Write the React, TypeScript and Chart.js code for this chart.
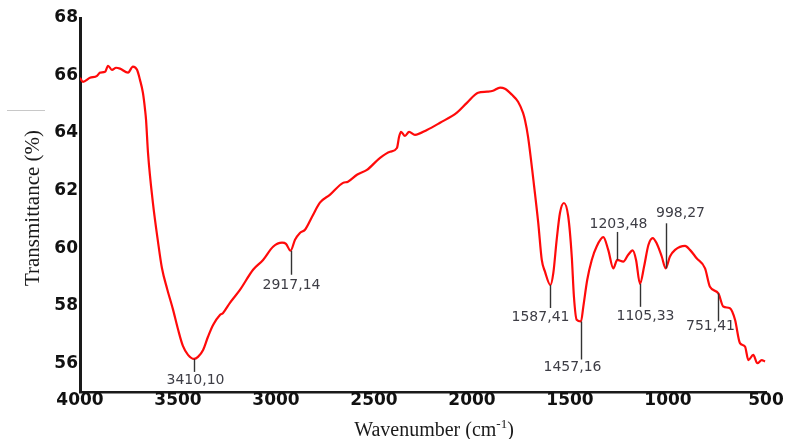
import React, { useEffect, useRef } from "react";
import { Chart, registerables } from "chart.js";

Chart.register(...registerables);

// ---- Data ----
const wavenumbers = [
  4000, 3985, 3949, 3913, 3898, 3872, 3857, 3837, 3816, 3796, 3755, 3730, 3709, 3694, 3679, 3668,
  3663, 3653, 3628, 3602, 3582, 3556, 3526, 3500, 3475, 3449, 3418, 3398, 3372, 3347, 3321, 3286,
  3270, 3235, 3184, 3117, 3066, 3015, 2969, 2949, 2926, 2903, 2878, 2852, 2816, 2776, 2724, 2658,
  2633, 2587, 2536, 2469, 2418, 2383, 2372, 2362, 2342, 2321, 2291, 2230, 2163, 2077, 2026, 1969,
  1923, 1893, 1857, 1832, 1796, 1765, 1740, 1730, 1714, 1687, 1662, 1644, 1628, 1600, 1585, 1568,
  1551, 1531, 1509, 1491, 1480, 1466, 1444, 1432, 1412, 1389, 1364, 1330, 1305, 1279, 1259, 1228,
  1203, 1180, 1163, 1143, 1122, 1100, 1078, 1058, 1032, 1012, 990, 964, 913, 888, 854, 811,
  786, 743, 718, 684, 658, 633, 607, 590, 565, 544, 522, 505,
];
const transmittance = [
  65.92, 65.78, 65.92, 65.99, 66.1, 66.13, 66.34, 66.2, 66.27, 66.24, 66.1, 66.31, 66.2, 65.85, 65.4, 64.81,
  64.46, 63.31, 61.57, 60.22, 59.31, 58.6, 57.88, 57.18, 56.6, 56.29, 56.15, 56.22, 56.46, 56.92, 57.33, 57.68,
  57.75, 58.1, 58.55, 59.25, 59.59, 60.05, 60.19, 60.15, 59.91, 60.29, 60.53, 60.64, 61.09, 61.58, 61.86, 62.27,
  62.31, 62.55, 62.72, 63.14, 63.35, 63.48, 63.87, 64.04, 63.9, 64.04, 63.94, 64.11, 64.36, 64.71, 65.05, 65.4,
  65.44, 65.47, 65.58, 65.54, 65.33, 65.09, 64.71, 64.46, 63.87, 62.38, 60.88, 59.59, 59.19, 58.72, 59.14, 60.29,
  61.23, 61.57, 61.1, 59.71, 58.32, 57.51, 57.45, 57.97, 58.9, 59.59, 60.06, 60.38, 59.94, 59.3, 59.59, 59.53,
  59.77, 59.92, 59.59, 58.76, 59.36, 60.11, 60.35, 60.17, 59.71, 59.3, 59.71, 59.94, 60.08, 59.94, 59.65, 59.3,
  58.66, 58.43, 57.97, 57.91, 57.51, 56.7, 56.58, 56.11, 56.29, 56.0, 56.11, 56.06,
];

const xTicks = [4000, 3500, 3000, 2500, 2000, 1500, 1000, 500];
const yTicks = [56, 58, 60, 62, 64, 66, 68];

const peakLabels = ["3410,10", "2917,14", "1587,41", "1457,16", "1203,48", "1105,33", "998,27", "751,41"];
const peakWavenumbers = [3418, 2926, 1600, 1444, 1259, 1143, 1012, 743];
const peakTransmittance = [56.15, 59.91, 58.72, 57.45, 59.59, 58.76, 59.3, 58.43];

// ---- Layout of leader lines / labels (pixels) ----
const leaderLen = [13, 24, 23, 38, -28, 23, -45, 28];
const labelDx = [1, 0, -10, -9, 1, 5, 14, -8];
const labelGap = [8, 11, 9, 8, 8, 10, 10, 5];

const annotationPlugin = {
  id: "peakAnnotations",
  afterDatasetsDraw(chart: any) {
    const { ctx, scales } = chart;
    const xs = scales.x;
    const ys = scales.y;
    ctx.save();
    ctx.strokeStyle = "#333333";
    ctx.lineWidth = 1.4;
    ctx.fillStyle = "#3d3d45";
    ctx.font = "14px 'DejaVu Sans'";
    ctx.textAlign = "center";
    ctx.textBaseline = "middle";
    peakLabels.forEach((label, i) => {
      const px = Math.round(xs.getPixelForValue(peakWavenumbers[i])) + 0.5;
      const py = ys.getPixelForValue(peakTransmittance[i]);
      const end = py + leaderLen[i];
      ctx.beginPath();
      ctx.moveTo(px, py);
      ctx.lineTo(px, end);
      ctx.stroke();
      const sign = leaderLen[i] >= 0 ? 1 : -1;
      ctx.fillText(label, px + labelDx[i], end + sign * labelGap[i]);
    });
    ctx.restore();
  },
};

const titlesPlugin = {
  id: "axisTitles",
  afterDraw(chart: any) {
    const { ctx } = chart;
    ctx.save();
    ctx.fillStyle = "#1a1a1a";
    // Y title
    ctx.save();
    ctx.translate(38.5, 208);
    ctx.rotate(-Math.PI / 2);
    ctx.font = "21px 'Liberation Serif'";
    ctx.textAlign = "center";
    ctx.textBaseline = "alphabetic";
    ctx.fillText("Transmittance (%)", 0, 0);
    ctx.restore();
    // X title with superscript
    const main = "Wavenumber (cm";
    const sup = "-1";
    const close = ")";
    ctx.textBaseline = "alphabetic";
    ctx.textAlign = "left";
    ctx.font = "20px 'Liberation Serif'";
    const w1 = ctx.measureText(main).width;
    const w3 = ctx.measureText(close).width;
    ctx.font = "13px 'Liberation Serif'";
    const w2 = ctx.measureText(sup).width;
    const total = w1 + w2 + w3;
    const x0 = 434 - total / 2;
    const base = 436;
    ctx.font = "20px 'Liberation Serif'";
    ctx.fillText(main, x0, base);
    ctx.font = "13px 'Liberation Serif'";
    ctx.fillText(sup, x0 + w1, base - 8);
    ctx.font = "20px 'Liberation Serif'";
    ctx.fillText(close, x0 + w1 + w2, base);
    // small decorative rule at left
    ctx.strokeStyle = "#c8c8c8";
    ctx.lineWidth = 1;
    ctx.beginPath();
    ctx.moveTo(7, 110.5);
    ctx.lineTo(45, 110.5);
    ctx.stroke();
    ctx.restore();
  },
};

export default function App() {
  const canvasRef = useRef<HTMLCanvasElement | null>(null);

  useEffect(() => {
    if (!canvasRef.current) return;
    const tickFont = { family: "'DejaVu Sans'", size: 17, weight: "bold" as const };
    const chart = new Chart(canvasRef.current, {
      type: "line",
      data: {
        datasets: [
          {
            data: wavenumbers.map((x, i) => ({ x, y: transmittance[i] })),
            borderColor: "#ff0a0a",
            borderWidth: 2.2,
            pointRadius: 0,
            fill: false,
            cubicInterpolationMode: "monotone",
          },
        ],
      },
      options: {
        responsive: false,
        animation: false,
        layout: { padding: { left: 0, top: 18, right: 19, bottom: 0 } },
        plugins: { legend: { display: false }, tooltip: { enabled: false }, title: { display: false } },
        scales: {
          x: {
            type: "linear",
            reverse: true,
            min: 500,
            max: 4000,
            afterBuildTicks: (s: any) => {
              s.ticks = xTicks.map((v) => ({ value: v }));
            },
            afterFit: (s: any) => {
              s.height = 47;
            },
            grid: { display: false, drawTicks: false },
            border: { display: true, color: "#1a1a1a", width: 2.5 },
            ticks: {
              font: tickFont,
              color: "#111111",
              padding: -2,
              maxRotation: 0,
              autoSkip: false,
              callback: (v: any) => String(v),
            },
          },
          y: {
            min: 55,
            max: 68,
            afterBuildTicks: (s: any) => {
              s.ticks = yTicks.map((v) => ({ value: v }));
            },
            afterFit: (s: any) => {
              s.width = 80;
            },
            grid: { display: false, drawTicks: false },
            border: { display: true, color: "#1a1a1a", width: 3 },
            ticks: {
              font: tickFont,
              color: "#111111",
              padding: 2,
              callback: (v: any) => String(v),
            },
          },
        },
      },
      plugins: [annotationPlugin, titlesPlugin],
    });
    return () => chart.destroy();
  }, []);

  return (
    <div style={{ position: "fixed", left: 0, top: 0, width: 785, height: 439, background: "#ffffff" }}>
      <canvas ref={canvasRef} width={785} height={439} style={{ display: "block" }} />
    </div>
  );
}
